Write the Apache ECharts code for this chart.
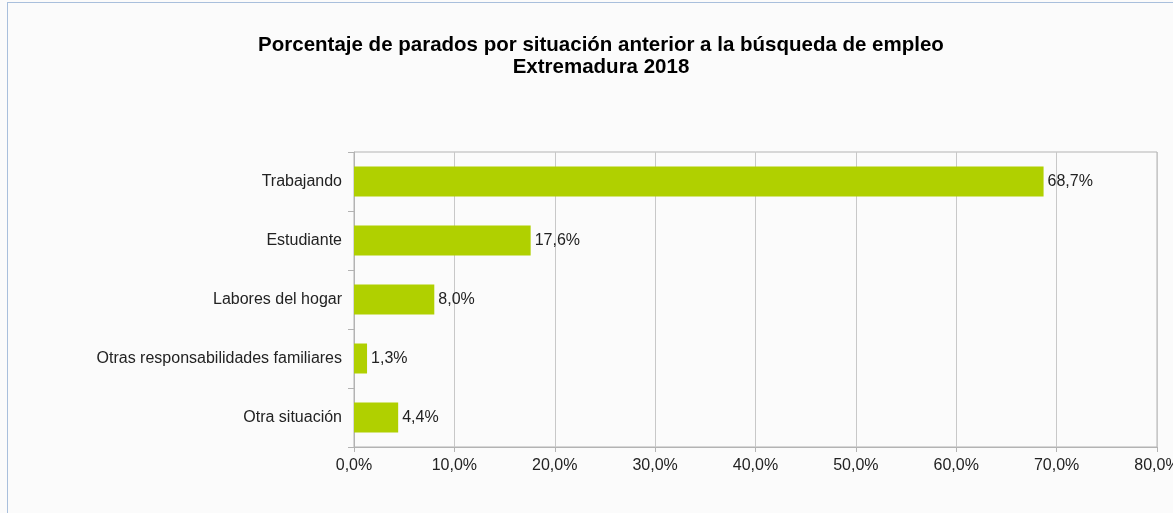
<!DOCTYPE html>
<html>
<head>
<meta charset="utf-8">
<script src="https://cdn.jsdelivr.net/npm/echarts@6/dist/echarts.min.js"></script>
<style>
  html, body { margin: 0; padding: 0; background: #fbfbfb; }
  #frame { position: absolute; left: 7px; top: 2px; width: 1180px; height: 530px;
           border-left: 1px solid #a9bfdc; border-top: 1px solid #a9bfdc; }
  #chart { position: absolute; left: 0; top: 0; width: 1173px; height: 513px; }
</style>
</head>
<body>
<div id="frame"></div>
<div id="chart"></div>
<script>
// categories and values
const categories = ['Trabajando', 'Estudiante', 'Labores del hogar', 'Otras responsabilidades familiares', 'Otra situación'];
const percentages = [68.7, 17.6, 8.0, 1.3, 4.4];

const fmt = v => v.toFixed(1).replace('.', ',') + '%';

const chart = echarts.init(document.getElementById('chart'));
chart.setOption({
  backgroundColor: 'transparent',
  textStyle: { fontFamily: 'Liberation Sans, Arial, sans-serif' },
  title: {
    text: 'Porcentaje de parados por situación anterior a la búsqueda de empleo\nExtremadura 2018',
    left: 596,
    textAlign: 'center',
    top: 29,
    textStyle: { fontSize: 20.5, fontWeight: 'bold', color: '#000', lineHeight: 22, fontFamily: 'Liberation Sans, Arial, sans-serif' }
  },
  grid: { left: 354, right: 16, top: 152, bottom: 66, outerBoundsMode: 'none', containLabel: false,
          show: true, borderColor: '#b3b3b3', borderWidth: 1, backgroundColor: 'transparent' },
  xAxis: {
    type: 'value',
    min: 0, max: 80, interval: 10,
    axisLine: { show: true, lineStyle: { color: '#b3b3b3' } },
    axisTick: { show: true, length: 5, lineStyle: { color: '#b3b3b3' } },
    splitLine: { show: true, lineStyle: { color: '#c8c8c8' } },
    axisLabel: { color: '#222', fontSize: 16, margin: 11, formatter: v => fmt(v) }
  },
  yAxis: {
    type: 'category',
    data: categories,
    inverse: true,
    axisLine: { show: true, lineStyle: { color: '#b3b3b3' } },
    axisTick: { show: true, length: 6, lineStyle: { color: '#b3b3b3' } },
    axisLabel: { color: '#222', fontSize: 16, margin: 12 }
  },
  series: [{
    type: 'bar',
    data: percentages,
    barWidth: 30,
    itemStyle: { color: '#b0d000' },
    label: { show: true, position: 'right', distance: 4, color: '#222', fontSize: 16, formatter: p => fmt(p.value) },
    animation: false
  }]
});
</script>
</body>
</html>
